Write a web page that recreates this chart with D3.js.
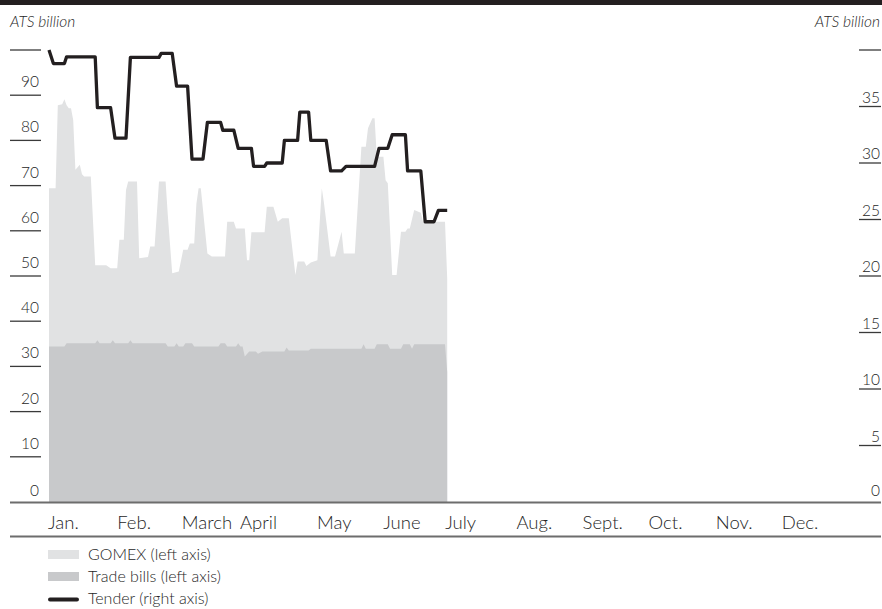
<!DOCTYPE html>
<html>
<head>
<meta charset="utf-8">
<script src="https://cdn.jsdelivr.net/npm/d3@7"></script>
<style>
  html, body { margin: 0; padding: 0; background: #fff; }
  svg { display: block; }
  text { font-family: Lato, "Open Sans", "DejaVu Sans", sans-serif; font-weight: 300; fill: #262626; }
</style>
</head>
<body>
<script>
// ---------- DATA ----------
const months = ["Jan.", "Feb.", "March", "April", "May", "June", "July", "Aug.", "Sept.", "Oct.", "Nov.", "Dec."];
const leftTicks = [0, 10, 20, 30, 40, 50, 60, 70, 80, 90, 100];
const rightTicks = [0, 5, 10, 15, 20, 25, 30, 35, 40];

const gomexDates = ["1998-01-01","1998-01-04","1998-01-05","1998-01-07","1998-01-08","1998-01-09","1998-01-10","1998-01-11","1998-01-12","1998-01-13","1998-01-15","1998-01-16","1998-01-17","1998-01-20","1998-01-22","1998-01-27","1998-01-29","1998-02-01","1998-02-02","1998-02-04","1998-02-05","1998-02-06","1998-02-10","1998-02-11","1998-02-15","1998-02-16","1998-02-18","1998-02-20","1998-02-23","1998-02-24","1998-02-26","1998-03-01","1998-03-03","1998-03-05","1998-03-06","1998-03-08","1998-03-09","1998-03-10","1998-03-11","1998-03-14","1998-03-16","1998-03-22","1998-03-23","1998-03-26","1998-03-27","1998-03-31","1998-04-01","1998-04-02","1998-04-03","1998-04-09","1998-04-10","1998-04-13","1998-04-15","1998-04-17","1998-04-20","1998-04-23","1998-04-24","1998-04-27","1998-04-28","1998-04-30","1998-05-03","1998-05-05","1998-05-06","1998-05-09","1998-05-11","1998-05-14","1998-05-15","1998-05-20","1998-05-23","1998-05-25","1998-05-26","1998-05-28","1998-05-29","1998-05-30","1998-06-02","1998-06-03","1998-06-04","1998-06-06","1998-06-08","1998-06-10","1998-06-12","1998-06-13","1998-06-14","1998-06-16","1998-06-19","1998-06-20","1998-06-30","1998-07-01"];
const gomexValues = [69.4,69.4,87.8,88.0,89.1,87.8,87.1,87.1,84.5,73.5,74.6,72.5,72.0,72.0,52.4,52.4,51.7,51.7,58.0,58.0,69.0,70.9,70.9,53.9,54.2,56.5,56.5,70.9,70.9,63.5,50.6,51.0,55.8,55.8,57.2,57.2,66.0,69.4,69.4,55.0,54.3,54.3,62.0,62.0,60.5,60.5,53.5,53.5,59.7,59.7,65.3,65.3,62.0,62.8,62.8,50.2,53.2,53.2,52.2,53.0,53.5,69.4,66.1,54.3,54.3,59.8,55.0,55.0,78.6,78.6,82.7,84.9,84.9,76.4,76.4,71.2,70.5,50.2,50.2,59.8,59.8,60.5,60.5,64.6,64.0,62.0,62.0,49.5];

const billsDates = ["1998-01-01","1998-01-08","1998-01-09","1998-01-22","1998-01-23","1998-01-24","1998-01-29","1998-01-30","1998-01-31","1998-02-06","1998-02-07","1998-02-08","1998-02-23","1998-02-24","1998-02-27","1998-02-28","1998-03-01","1998-03-03","1998-03-04","1998-03-07","1998-03-08","1998-03-19","1998-03-20","1998-03-22","1998-03-23","1998-03-27","1998-03-28","1998-03-29","1998-03-30","1998-03-31","1998-04-02","1998-04-05","1998-04-06","1998-04-08","1998-04-18","1998-04-19","1998-04-20","1998-04-29","1998-04-30","1998-05-23","1998-05-24","1998-05-25","1998-05-29","1998-05-30","1998-06-04","1998-06-05","1998-06-10","1998-06-11","1998-06-14","1998-06-15","1998-06-16","1998-06-30","1998-07-01"];
const billsValues = [34.4,34.4,35.1,35.1,35.8,35.1,35.1,35.8,35.1,35.1,35.8,35.1,35.1,34.4,34.4,35.1,34.4,34.4,35.1,35.1,34.4,34.4,35.1,35.1,34.4,34.4,35.1,34.4,34.4,32.2,33.3,33.3,32.8,33.3,33.3,34.2,33.5,33.5,33.9,33.9,34.9,33.9,33.9,34.9,34.9,33.9,33.9,34.9,34.9,33.9,34.9,34.9,28.8];

const tenderDates = ["1998-01-01","1998-01-03","1998-01-08","1998-01-09","1998-01-22","1998-01-23","1998-01-29","1998-01-31","1998-02-05","1998-02-07","1998-02-20","1998-02-21","1998-02-26","1998-02-28","1998-03-05","1998-03-07","1998-03-12","1998-03-14","1998-03-20","1998-03-21","1998-03-26","1998-03-28","1998-04-03","1998-04-04","1998-04-09","1998-04-10","1998-04-17","1998-04-18","1998-04-24","1998-04-25","1998-04-29","1998-04-30","1998-05-07","1998-05-09","1998-05-14","1998-05-16","1998-05-29","1998-05-31","1998-06-04","1998-06-06","1998-06-12","1998-06-13","1998-06-19","1998-06-21","1998-06-25","1998-06-27","1998-07-01"];
const tenderValues = [40.0,38.8,38.8,39.4,39.4,34.9,34.9,32.2,32.2,39.35,39.35,39.7,39.7,36.8,36.8,30.35,30.35,33.6,33.6,32.9,32.9,31.3,31.3,29.7,29.7,30.0,30.0,32.0,32.0,34.5,34.5,32.0,32.0,29.3,29.3,29.7,29.7,31.3,31.3,32.5,32.5,29.3,29.3,24.8,24.8,25.8,25.8];

const legendItems = ["GOMEX (left axis)", "Trade bills (left axis)", "Tender (right axis)"];

// ---------- LAYOUT ----------
const W = 882, H = 609;
const baseY = 502, topY = 50;
const colLight = "#e1e2e3", colDark = "#c8c9cb", colLine = "#231f20", colAxis = "#6d6d6d";
const monthNudge = [-1, 0, 3, -7, 4, 2, -2, 1, -1, -1, -2, -2];

const parse = d3.timeParse("%Y-%m-%d");
const gomex = gomexDates.map((d, i) => ({ date: parse(d), value: gomexValues[i] }));
const bills = billsDates.map((d, i) => ({ date: parse(d), value: billsValues[i] }));
const tender = tenderDates.map((d, i) => ({ date: parse(d), value: tenderValues[i] }));

const x = d3.scaleTime().domain([new Date(1998, 0, 1), new Date(1999, 0, 1)]).range([49, 852]);
const yL = d3.scaleLinear().domain([0, 100]).range([baseY, topY]);
const yR = d3.scaleLinear().domain([0, 40]).range([baseY, topY]);

const svg = d3.select("body").append("svg").attr("width", W).attr("height", H);

// top bar
svg.append("rect").attr("x", 0).attr("y", 0).attr("width", W).attr("height", 5).attr("fill", colLine);

// unit labels
svg.append("text").attr("x", 10).attr("y", 27).attr("font-size", 15.5).attr("font-style", "italic").text("ATS billion");
svg.append("text").attr("x", 880).attr("y", 27).attr("font-size", 15.5).attr("font-style", "italic").attr("text-anchor", "end").text("ATS billion");

// areas
const areaL = d3.area().x(d => x(d.date)).y0(yL(0)).y1(d => yL(d.value)).curve(d3.curveLinear);
svg.append("path").datum(gomex).attr("d", areaL).attr("fill", colLight);
svg.append("path").datum(bills).attr("d", areaL).attr("fill", colDark);

// tender line
const lineR = d3.line().x(d => x(d.date)).y(d => yR(d.value)).curve(d3.curveLinear);
svg.append("path").datum(tender).attr("d", lineR).attr("fill", "none")
  .attr("stroke", colLine).attr("stroke-width", 3.3).attr("stroke-linejoin", "round").attr("stroke-linecap", "butt");

// left axis
const gL = svg.append("g");
leftTicks.filter(t => t > 0).forEach(t => {
  gL.append("line").attr("x1", 10).attr("x2", 41).attr("y1", yL(t)).attr("y2", yL(t))
    .attr("stroke", "#3a3a3a").attr("stroke-width", 1.3);
});
leftTicks.filter(t => t < 100).forEach(t => {
  gL.append("text").attr("x", 39).attr("y", t === 0 ? yL(t) - 6 : yL(t) - 8)
    .attr("text-anchor", "end").attr("font-size", 15.5).text(t);
});

// right axis
const gR = svg.append("g");
rightTicks.filter(t => t > 0).forEach(t => {
  gR.append("line").attr("x1", 859).attr("x2", 881).attr("y1", yR(t)).attr("y2", yR(t))
    .attr("stroke", "#3a3a3a").attr("stroke-width", 1.3);
});
rightTicks.filter(t => t < 40).forEach(t => {
  gR.append("text").attr("x", 880).attr("y", t === 0 ? yR(t) - 6 : yR(t) - 4)
    .attr("text-anchor", "end").attr("font-size", 15.5).text(t);
});

// baseline and lower rule
svg.append("line").attr("x1", 10).attr("x2", 881).attr("y1", baseY + 0.5).attr("y2", baseY + 0.5)
  .attr("stroke", colAxis).attr("stroke-width", 2);
svg.append("line").attr("x1", 10).attr("x2", 881).attr("y1", 536.5).attr("y2", 536.5)
  .attr("stroke", colAxis).attr("stroke-width", 2);

// month labels
const monthStarts = d3.timeMonth.range(new Date(1998, 0, 1), new Date(1999, 0, 1));
svg.append("g").selectAll("text").data(months).join("text")
  .attr("x", (d, i) => x(monthStarts[i]) + monthNudge[i])
  .attr("y", 529).attr("font-size", 18.5).text(d => d);

// legend
const lg = svg.append("g");
lg.append("rect").attr("x", 48).attr("y", 550).attr("width", 31).attr("height", 9).attr("fill", colLight);
lg.append("rect").attr("x", 48).attr("y", 572).attr("width", 31).attr("height", 9).attr("fill", colDark);
lg.append("line").attr("x1", 50).attr("x2", 77).attr("y1", 599.5).attr("y2", 599.5)
  .attr("stroke", colLine).attr("stroke-width", 4).attr("stroke-linecap", "round");
legendItems.forEach((t, i) => {
  lg.append("text").attr("x", 88).attr("y", 560 + i * 22).attr("font-size", 16).text(t);
});
</script>
</body>
</html>
